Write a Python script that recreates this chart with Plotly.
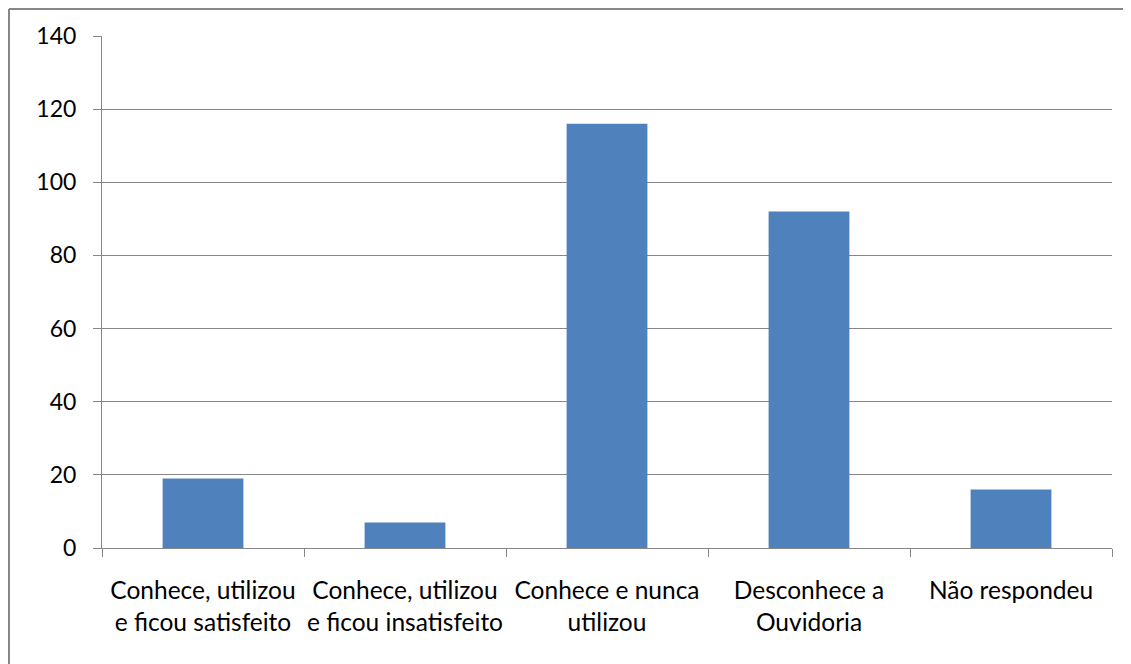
import plotly.graph_objects as go

categories = ["Conhece, utilizou<br>e ficou satisfeito", "Conhece, utilizou<br>e ficou insatisfeito",
              "Conhece e nunca<br>utilizou", "Desconhece a<br>Ouvidoria", "Não respondeu"]
values = [19, 7, 116, 92, 16]
y_ticks = [0, 20, 40, 60, 80, 100, 120, 140]

GRID = "#868686"
FONT = "Lato"

fig = go.Figure(go.Bar(x=categories, y=values, marker=dict(color="#4F81BD", line=dict(width=0)),
                       width=0.4))

fig.update_layout(
    width=1123, height=656,
    margin=dict(l=94, r=19, t=28, b=116),
    paper_bgcolor="white", plot_bgcolor="white",
    showlegend=False,
    font=dict(family=FONT, size=24, color="black"),
)
fig.update_xaxes(
    showline=True, linecolor=GRID, linewidth=1,
    ticks="outside", ticklen=8, tickcolor=GRID, tickson="boundaries",
    showgrid=False, tickfont=dict(size=24.5), ticklabelstandoff=21,
    tickangle=0, automargin=False,
)
fig.update_yaxes(
    range=[0, 140], tickvals=y_ticks,
    showline=True, linecolor=GRID, linewidth=1,
    ticks="outside", ticklen=8, tickcolor=GRID,
    showgrid=True, gridcolor=GRID, gridwidth=1, zeroline=False,
    tickfont=dict(size=23), ticklabelstandoff=12, automargin=False,
)
# outer chart-area border (top and left edges visible in the reference)
fig.add_shape(type="line", xref="paper", yref="paper",
              x0=-0.0921, x1=1.05, y0=1.0527, y1=1.0527,
              line=dict(color=GRID, width=2), layer="below")
fig.add_shape(type="line", xref="paper", yref="paper",
              x0=-0.0921, x1=-0.0921, y0=-0.3, y1=1.0527,
              line=dict(color=GRID, width=2), layer="below")

fig.write_html("out.html")
